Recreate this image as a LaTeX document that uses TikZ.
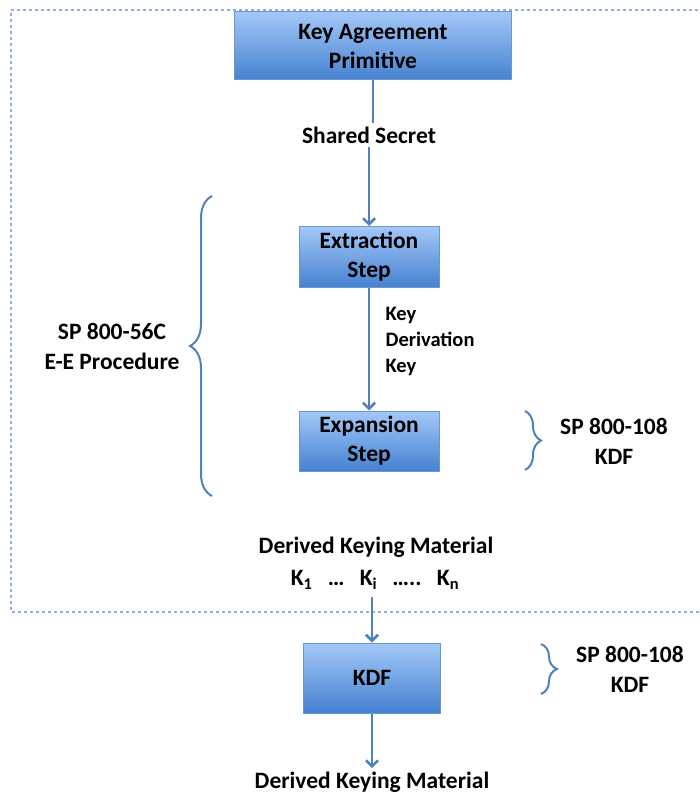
\documentclass[tikz,border=0pt]{standalone}
\usepackage{fontspec}
\setmainfont{Carlito}
\usepackage{tikz}
\usetikzlibrary{arrows.meta,decorations.pathreplacing}

\definecolor{boxtop}{HTML}{A3C8F8}
\definecolor{boxbot}{HTML}{4581D0}
\definecolor{boxline}{HTML}{6A96D2}
\definecolor{flow}{HTML}{4F81BD}
\definecolor{frameblue}{HTML}{8FB0DC}

\begin{document}
\begin{tikzpicture}[x=1pt,y=-1pt,-,thick,
    step box/.style={draw=boxline,line width=1pt,top color=boxtop,bottom color=boxbot,
                     font=\bfseries\fontsize{23.5}{29}\selectfont,align=center,inner sep=0pt},
    label text/.style={font=\bfseries\fontsize{23.5}{30}\selectfont,align=center},
    key label/.style={font=\bfseries\fontsize{20.5}{26}\selectfont,align=left},
    flow line/.style={draw=flow,line width=2.5pt},
    flow arrow/.style={flow line,-{Straight Barb[length=6pt,width=12pt]}},
    curly/.style={draw=flow,line width=2pt,decorate}]

  \useasboundingbox (0,0) rectangle (700,794);

  % dashed frame round the 56C procedure
  \draw[frameblue,dashed,line width=1.2pt] (710,10) -| (11,612) -- (710,612);

  \node[step box,minimum width=277,minimum height=68] (kap) at (373,46) {Key Agreement\\Primitive};
  \node[label text] (ss) at (369,135) {Shared Secret};
  \node[step box,minimum width=140,minimum height=61] (ext) at (369,257) {Extraction\\Step};
  \node[step box,minimum width=140,minimum height=60] (exp) at (369,441) {Expansion\\Step};
  \node[label text] (dkm) at (376,547) {Derived Keying Material};
  \node[label text] (keys) at (375,580) {K\textsubscript{1}\hspace{.65em}\ldots\hspace{.65em}K\textsubscript{i}\hspace{.65em}\ldots..\hspace{.65em}K\textsubscript{n}};
  \node[step box,minimum width=137,minimum height=70] (kdf) at (372,678) {KDF};
  \node[label text] (out) at (372,782) {Derived Keying Material};

  \node[label text] (ee) at (112,346) {SP 800-56C\\E-E Procedure};
  \node[label text] (sp1) at (614,441) {SP 800-108\\KDF};
  \node[label text] (sp2) at (630,669) {SP 800-108\\KDF};

  \draw[flow line] (kap.south) -- (kap.south |- ss.north);
  \draw[flow arrow] (ss.south -| ext) -- (ext.north);
  \draw[flow arrow] (ext) -- node[key label,right=12pt,pos=.44] {Key\\Derivation\\Key} (exp);
  \draw[flow arrow] ([yshift=-4pt]keys.south -| kdf) -- (kdf.north);
  \draw[flow arrow] (kdf) -- (out);

  % braces
  \coordinate (lb bot) at (212,496);
  \coordinate (lb top) at (212,196);
  \coordinate (rb1 top) at (525,411);
  \coordinate (rb1 bot) at (525,470);
  \coordinate (rb2 top) at (541,644);
  \coordinate (rb2 bot) at (541,694);
  \draw[curly,decoration={brace,amplitude=22pt}] (lb bot) -- (lb top);
  \draw[curly,decoration={brace,amplitude=16pt}] (rb1 top) -- (rb1 bot);
  \draw[curly,decoration={brace,amplitude=16pt}] (rb2 top) -- (rb2 bot);
\end{tikzpicture}
\end{document}
